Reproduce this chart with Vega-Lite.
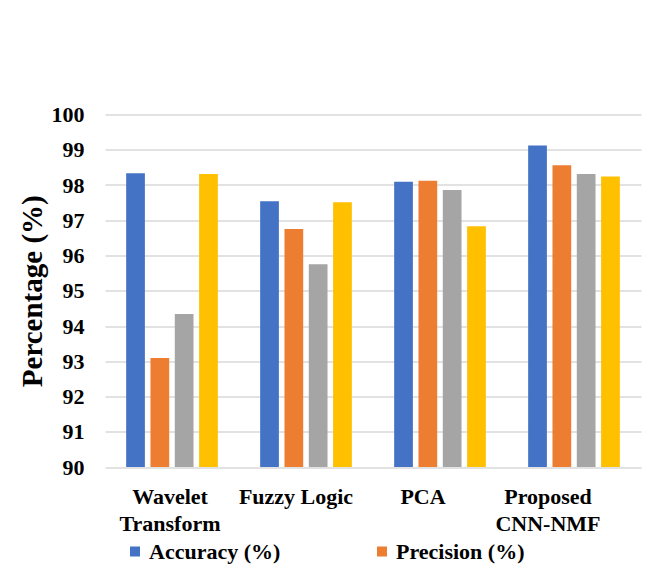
{
  "$schema": "https://vega.github.io/schema/vega-lite/v6.json",
  "width": 536,
  "height": 352.5,
  "autosize": {"type": "none"},
  "padding": {"left": 105, "top": 114.5, "right": 10, "bottom": 120},
  "background": "white",
  "config": {"view": {"stroke": null}, "font": "Liberation Serif"},
  "data": {
    "values": [
      {"method": "Wavelet Transform", "metric": "Accuracy (%)", "value": 98.33},
      {"method": "Wavelet Transform", "metric": "Precision (%)", "value": 93.09},
      {"method": "Wavelet Transform", "metric": "Recall (%)", "value": 94.34},
      {"method": "Wavelet Transform", "metric": "F1-Score (%)", "value": 98.31},
      {"method": "Fuzzy Logic", "metric": "Accuracy (%)", "value": 97.54},
      {"method": "Fuzzy Logic", "metric": "Precision (%)", "value": 96.75},
      {"method": "Fuzzy Logic", "metric": "Recall (%)", "value": 95.75},
      {"method": "Fuzzy Logic", "metric": "F1-Score (%)", "value": 97.51},
      {"method": "PCA", "metric": "Accuracy (%)", "value": 98.09},
      {"method": "PCA", "metric": "Precision (%)", "value": 98.12},
      {"method": "PCA", "metric": "Recall (%)", "value": 97.86},
      {"method": "PCA", "metric": "F1-Score (%)", "value": 96.83},
      {"method": "Proposed CNN-NMF", "metric": "Accuracy (%)", "value": 99.12},
      {"method": "Proposed CNN-NMF", "metric": "Precision (%)", "value": 98.56},
      {"method": "Proposed CNN-NMF", "metric": "Recall (%)", "value": 98.31},
      {"method": "Proposed CNN-NMF", "metric": "F1-Score (%)", "value": 98.24}
    ]
  },
  "mark": {"type": "bar"},
  "encoding": {
    "x": {
      "field": "method",
      "type": "nominal",
      "sort": ["Wavelet Transform", "Fuzzy Logic", "PCA", "Proposed CNN-NMF"],
      "scale": {"paddingInner": 0, "paddingOuter": 0},
      "axis": {
        "title": null,
        "domain": false,
        "ticks": false,
        "grid": false,
        "labelAngle": 0,
        "labelFont": "Liberation Serif",
        "labelFontWeight": "bold",
        "labelFontSize": 22,
        "labelColor": "black",
        "labelPadding": 19,
        "labelLineHeight": 27,
        "labelOffset": {
          "condition": [
            {"test": "datum.value == 'Fuzzy Logic'", "value": -10},
            {"test": "datum.value == 'PCA'", "value": -17},
            {"test": "datum.value == 'Proposed CNN-NMF'", "value": -26}
          ],
          "value": -2
        },
        "labelExpr": "datum.label == 'Wavelet Transform' ? ['Wavelet', 'Transform'] : datum.label == 'Proposed CNN-NMF' ? ['Proposed', 'CNN-NMF'] : datum.label"
      }
    },
    "xOffset": {
      "field": "metric",
      "type": "nominal",
      "sort": ["Accuracy (%)", "Precision (%)", "Recall (%)", "F1-Score (%)"],
      "scale": {"paddingInner": 0.23, "paddingOuter": 0.87}
    },
    "y": {
      "field": "value",
      "type": "quantitative",
      "scale": {"domain": [90, 100], "zero": false, "nice": false},
      "axis": {
        "title": "Percentage (%)",
        "titleFont": "Liberation Serif",
        "titleFontWeight": "bold",
        "titleFontSize": 29,
        "titleColor": "black",
        "titlePadding": 4,
        "values": [90, 91, 92, 93, 94, 95, 96, 97, 98, 99, 100],
        "domain": false,
        "ticks": false,
        "labelFont": "Liberation Serif",
        "labelFontWeight": "bold",
        "labelFontSize": 22,
        "labelColor": "black",
        "labelPadding": 21,
        "gridColor": "#d9d9d9",
        "gridWidth": 1.5
      }
    },
    "y2": {"datum": 90},
    "color": {
      "field": "metric",
      "type": "nominal",
      "sort": ["Accuracy (%)", "Precision (%)", "Recall (%)", "F1-Score (%)"],
      "scale": {
        "domain": ["Accuracy (%)", "Precision (%)", "Recall (%)", "F1-Score (%)"],
        "range": ["#4472C4", "#ED7D31", "#A5A5A5", "#FFC000"]
      },
      "legend": {
        "values": ["Accuracy (%)", "Precision (%)"],
        "title": null,
        "orient": "none",
        "legendX": 19,
        "legendY": 426,
        "direction": "horizontal",
        "padding": 0,
        "symbolType": "square",
        "symbolSize": 100,
        "symbolStrokeWidth": 0,
        "labelOffset": 3,
        "columnPadding": 90,
        "labelFont": "Liberation Serif",
        "labelFontWeight": "bold",
        "labelFontSize": 22,
        "labelColor": "black",
        "labelLimit": 300
      }
    }
  }
}
